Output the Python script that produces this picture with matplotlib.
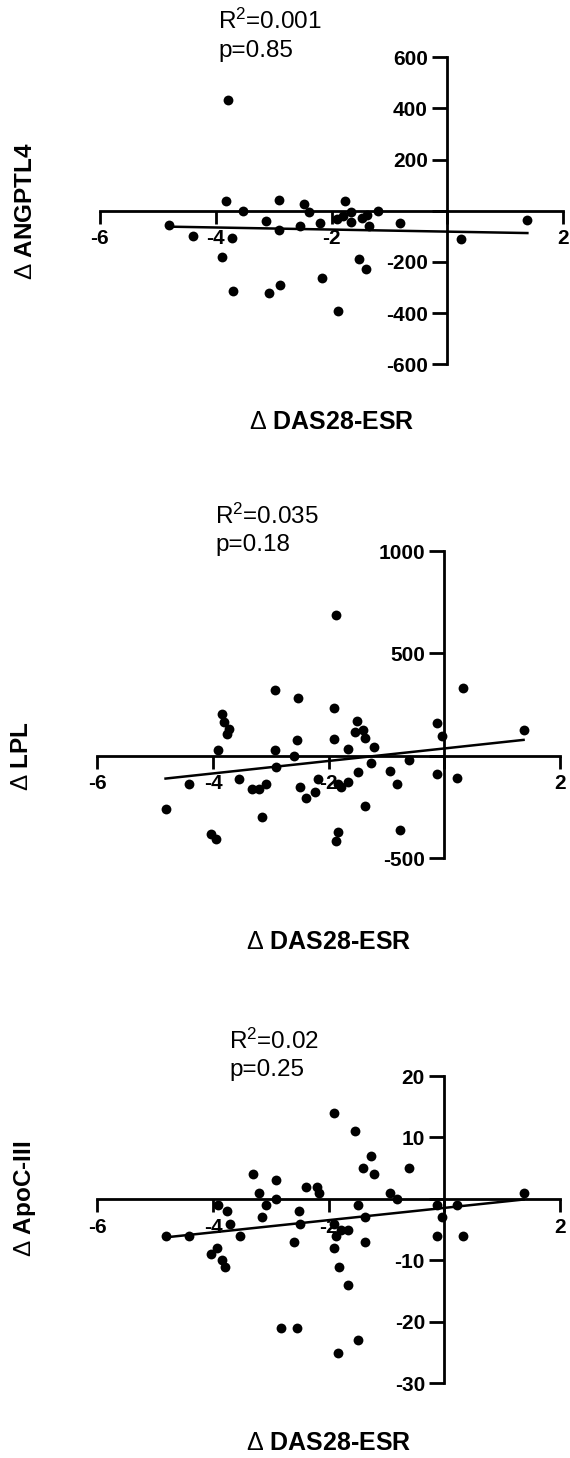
import numpy as np
import matplotlib
matplotlib.use("Agg")
import matplotlib.pyplot as plt

plt.rcParams['font.family'] = ['Liberation Sans', 'DejaVu Sans']
plt.rcParams['mathtext.fontset'] = 'custom'
plt.rcParams['mathtext.rm'] = 'Liberation Sans'
plt.rcParams['mathtext.it'] = 'Liberation Sans'

# ---------------- data ----------------
x_label = "DAS28-ESR"
x_ticks = [-6, -4, -2, 0, 2]
x_ticklabels = ["-6", "-4", "-2", "", "2"]

# Panel 1: ANGPTL4
x1 = [-3.78, -3.82, -2.90, -2.48, -1.77, -3.52, -2.39, -1.20, -1.66, -1.81, -1.90,
      -1.48, -1.38, -1.66, -1.36, -3.13, -2.55, -2.20, -2.90, -4.80, -4.39, -3.72,
      -0.81, 1.38, 0.23, -3.89, -1.53, -1.40, -2.16, -3.70, -3.08, -2.89, -1.89]
y1 = [432, 39, 44, 26, 38, 0, -5, 0, -4, -21, -34, -29, -17, -43, -59, -40, -61, -47,
      -76, -56, -99, -107, -46, -36, -109, -181, -190, -229, -263, -314, -323, -289, -391]
y1_ticks = [600, 400, 200, 0, -200, -400, -600]
fit1 = {"intercept": -81.4, "slope": -4.05, "xmin": -4.80, "xmax": 1.38}
stats1 = ("0.001", "0.85")
ylab1 = "ANGPTL4"

# Panel 2: LPL
x2 = [-1.88, -2.92, -2.53, 0.33, -1.90, -3.84, -3.81, -3.72, -3.76, -1.51, -1.55, -1.40,
      -1.38, -0.13, -0.04, 1.37, -2.55, -1.90, -3.91, -2.92, -1.67, -1.22, -2.60, -0.61,
      -2.91, -1.27, -1.50, -0.94, -0.13, 0.22, -3.55, -4.41, -3.09, -3.32, -3.20, -2.18,
      -2.50, -2.23, -2.39, -1.67, -1.78, -1.83, -0.82, -1.38, -4.82, -3.15, -4.03, -3.94,
      -1.83, -1.88, -0.76]
y2 = [688, 322, 283, 333, 233, 203, 163, 130, 106, 171, 116, 127, 88, 158, 99, 127, 78,
      81, 29, 31, 33, 42, -3, -20, -55, -36, -81, -75, -89, -109, -111, -137, -137, -164,
      -164, -111, -153, -176, -207, -129, -153, -137, -137, -244, -260, -298, -382, -407,
      -371, -415, -364]
y2_ticks = [1000, 500, 0, -500]
fit2 = {"intercept": 36.2, "slope": 30.5, "xmin": -4.82, "xmax": 1.37}
stats2 = ("0.035", "0.18")
ylab2 = "LPL"

# Panel 3: ApoC-III
x3 = [-1.90, -1.55, -1.27, -1.40, -1.22, -0.61, -3.30, -2.91, -2.39, -2.21,
      -2.17, -3.20, -2.91, -0.94, -0.82, 1.38, -3.91, -3.09, -1.50, -0.13,
      0.22, -3.75, -2.52, -3.15, -1.38, -0.04, -3.71, -2.50, -1.90, -1.78,
      -1.67, -1.88, -4.82, -4.41, -3.54, -0.13, 0.33, -2.60, -1.38, -1.90,
      -3.93, -4.03, -3.84, -3.79, -1.82, -1.67, -2.83, -2.55, -1.49, -1.83]
y3 = [14, 11, 7, 5, 4, 5, 4, 3, 2, 2,
      1, 1, 0, 1, 0, 1, -1, -1, -1, -1,
      -1, -2, -2, -3, -3, -3, -4, -4, -4, -5,
      -5, -6, -6, -6, -6, -6, -6, -7, -7, -8,
      -8, -9, -10, -11, -11, -14, -21, -21, -23, -25]
y3_ticks = [20, 10, 0, -10, -20, -30]
fit3 = {"intercept": -1.46, "slope": 0.995, "xmin": -4.82, "xmax": 1.37}
stats3 = ("0.02", "0.25")
ylab3 = "ApoC-III"

# ---------------- layout (pixels) ----------------
W, H = 570, 1458
fig = plt.figure(figsize=(W / 100, H / 100), dpi=100)

def px_axes(left, right, top, bottom):
    return fig.add_axes([left / W, 1 - bottom / H, (right - left) / W, (bottom - top) / H])

panels = [
    dict(x=x1, y=y1, yt=y1_ticks, fit=fit1, stats=stats1, ylab=ylab1,
         box=(99.7, 563.3, 57.3, 364.3), stat_xy=(218, 21, 51), xlab_y=422, ylab_x=25),
    dict(x=x2, y=y2, yt=y2_ticks, fit=fit2, stats=stats2, ylab=ylab2,
         box=(97.3, 560.0, 551.0, 858.3), stat_xy=(215, 516, 545), xlab_y=942, ylab_x=22),
    dict(x=x3, y=y3, yt=y3_ticks, fit=fit3, stats=stats3, ylab=ylab3,
         box=(97.3, 560.0, 1076.0, 1383.3), stat_xy=(229, 1041, 1070), xlab_y=1443, ylab_x=25),
]

lw = 2.0
for p in panels:
    ax = px_axes(*p["box"])
    ax.set_xlim(-6, 2)
    ax.set_ylim(min(p["yt"]), max(p["yt"]))
    ax.patch.set_alpha(0)
    for s in ["top", "right"]:
        ax.spines[s].set_visible(False)
    ax.spines["left"].set_position(("data", 0))
    ax.spines["bottom"].set_position(("data", 0))
    ax.spines["left"].set_linewidth(lw)
    ax.spines["bottom"].set_linewidth(lw)
    ax.spines["left"].set_capstyle("projecting")
    ax.spines["bottom"].set_capstyle("projecting")

    ax.set_xticks(x_ticks)
    ax.set_xticklabels(x_ticklabels)
    ax.set_yticks(p["yt"])
    ax.set_yticklabels([("" if v == 0 else str(v)) for v in p["yt"]])
    ax.tick_params(axis="x", direction="out", length=9.4, width=lw, pad=4,
                   labelsize=15)
    ax.tick_params(axis="y", direction="out", length=11, width=lw, pad=3,
                   labelsize=15)
    for lab in ax.get_xticklabels() + ax.get_yticklabels():
        lab.set_fontweight("bold")

    ax.scatter(p["x"], p["y"], s=50, color="black", zorder=3, clip_on=False,
               linewidths=0)
    f = p["fit"]
    fx = np.array([f["xmin"], f["xmax"]])
    ax.plot(fx, f["intercept"] + f["slope"] * fx, color="black", lw=1.8, zorder=4)

    sx, sy1, sy2 = p["stat_xy"]
    fig.text(sx / W, 1 - sy1 / H, r"R$^{2}$=" + p["stats"][0], fontsize=17.5,
             ha="left", va="center")
    fig.text(sx / W, 1 - sy2 / H, "p=" + p["stats"][1], fontsize=17.5,
             ha="left", va="center")

    cx = (p["box"][0] + p["box"][1]) / 2
    fig.text(cx / W, 1 - p["xlab_y"] / H, r"$\Delta$ " + x_label, fontsize=18,
             fontweight="bold", ha="center", va="center")
    # y label centred on the zero line
    y0_px = p["box"][2] + (max(p["yt"]) - 0) / (max(p["yt"]) - min(p["yt"])) * (p["box"][3] - p["box"][2])
    fig.text(p["ylab_x"] / W, 1 - y0_px / H, r"$\Delta$ " + p["ylab"], fontsize=17.5,
             fontweight="bold", ha="center", va="center", rotation=90)

fig.savefig("out.png", dpi=100, facecolor="white")
